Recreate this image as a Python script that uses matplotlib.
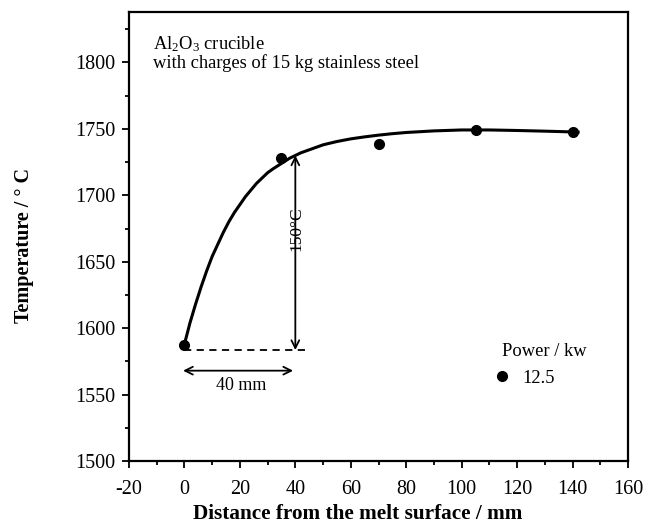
import numpy as np
import matplotlib
matplotlib.use("Agg")
from matplotlib import pyplot as plt
from matplotlib.ticker import MultipleLocator
from matplotlib.lines import Line2D

# measured points (power 12.5 kW)
dist = [0, 35, 70, 105, 140]
temp = [1587, 1728, 1739, 1749, 1748]

# fitted curve
curve_x = [0, 2, 4, 6, 8, 10, 12, 14, 16, 18, 20, 22, 24, 26, 28, 30, 32, 35, 38,
           42, 46, 50, 55, 60, 65, 70, 75, 80, 90, 100, 110, 120, 130, 142]
curve_y = [1588, 1604, 1618, 1631, 1643, 1654, 1663, 1672, 1680, 1687, 1693, 1699,
           1704, 1709, 1713, 1717, 1720, 1724, 1728, 1732, 1735, 1738, 1740.5, 1742.5,
           1744, 1745.3, 1746.4, 1747.3, 1748.5, 1749.2, 1749.2, 1748.8, 1748.3, 1747.6]

x_ticks = [-20, 0, 20, 40, 60, 80, 100, 120, 140, 160]
y_ticks = [1500, 1550, 1600, 1650, 1700, 1750, 1800]

plt.rcParams["font.family"] = ["Liberation Serif", "DejaVu Serif"]
plt.rcParams["mathtext.fontset"] = "custom"
plt.rcParams["mathtext.rm"] = "Liberation Serif"
plt.rcParams["mathtext.it"] = "Liberation Serif:italic"
plt.rcParams["axes.unicode_minus"] = False

fig = plt.figure(figsize=(6.53, 5.23), dpi=100)
ax = fig.add_axes([129/653, 62/523, 499/653, 449/523])

ax.plot(curve_x, curve_y, color="black", lw=2.2, zorder=3)
ax.plot(dist, temp, "o", color="black", ms=7, zorder=4)

# 40 mm / 150 C guide marks
ax.plot([0, 44.5], [1583.5, 1583.5], color="black", lw=1.3, ls=(0, (4, 3)))
ax.annotate("", xy=(-1.5, 1568), xytext=(40.2, 1568),
            arrowprops=dict(arrowstyle="<->", color="black", lw=1.3, mutation_scale=14))
ax.annotate("", xy=(40, 1583.5), xytext=(40, 1730),
            arrowprops=dict(arrowstyle="<->", color="black", lw=1.3, mutation_scale=14,
                            shrinkA=0, shrinkB=0))
ax.text(20.6, 1557, "40 mm", ha="center", va="center", fontsize=13)
ax.text(40.3, 1675, "150°C", ha="center", va="center", rotation=90, fontsize=12.5)

ax.text(-11.5, 1813.5, "Al$_2$O$_3$ crucible", ha="left", va="center", fontsize=13.3)
ax.text(-11.5, 1799.5, "with charges of 15 kg stainless steel", ha="left", va="center", fontsize=13.3)

handle = Line2D([], [], marker="o", color="black", ls="none", ms=7)
leg = ax.legend([handle], ["12.5"], title="Power / kw", loc="upper left",
                bbox_to_anchor=(0.747, 0.262), frameon=False, fontsize=13.3,
                title_fontsize=13.3, handlelength=0.0, handletextpad=1.1,
                borderpad=0, borderaxespad=0, alignment="left")

ax.set_xlim(-20, 160)
ax.set_ylim(1500, 1838)
ax.set_xticks(x_ticks)
ax.set_yticks(y_ticks)
ax.xaxis.set_minor_locator(MultipleLocator(10))
ax.yaxis.set_minor_locator(MultipleLocator(25))
ax.tick_params(which="major", direction="out", length=5, width=1.3, labelsize=14.5, pad=5)
ax.tick_params(axis="x", which="major", pad=9)
ax.tick_params(which="minor", direction="out", length=3, width=1.3)
for s in ax.spines.values():
    s.set_linewidth(1.6)

ax.set_xlabel("Distance from the melt surface / mm", fontsize=15.3, fontweight="bold")
ax.xaxis.set_label_coords(0.459, -0.095)
ax.set_ylabel("Temperature / ° C", fontsize=14.5, fontweight="bold")
ax.yaxis.set_label_coords(-0.19, 0.48)

fig.savefig("out.png", dpi=100)
